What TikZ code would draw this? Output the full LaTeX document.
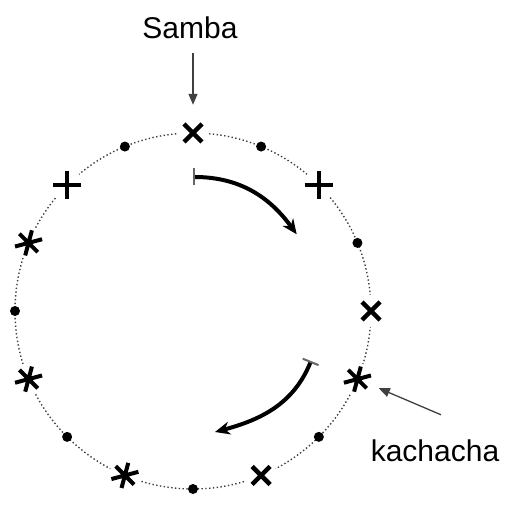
\documentclass[tikz,border=0pt]{standalone}
\usepackage{fontspec}
\setmainfont{Liberation Sans}
\usetikzlibrary{arrows.meta,calc}

\begin{document}
\begin{tikzpicture}[x=1pt, y=1pt,
    ring/.style={line width=1.4pt, black!75, dash pattern=on 1.4pt off 2.4pt},
    sign/.style={circle, fill=white, inner sep=0pt, minimum size=32pt},
    xsign/.style={sign, path picture={\draw[line width=4.5pt, shift={(path picture bounding box.center)}]
        (-9pt,-9pt) -- (9pt,9pt) (-9pt,9pt) -- (9pt,-9pt);}},
    plussign/.style={sign, path picture={\draw[line width=4.5pt, shift={(path picture bounding box.center)}]
        (-14pt,0pt) -- (14pt,0pt) (0pt,-14pt) -- (0pt,14pt);}},
    starsign/.style={sign, path picture={\draw[line width=4pt, shift={(path picture bounding box.center)}]
        (195:14pt) -- (15:14pt) (255:13pt) -- (75:13pt) (315:13pt) -- (135:13pt);}},
    dotsign/.style={circle, fill=black, inner sep=0pt, minimum size=10pt},
    word/.style={font=\fontsize{30}{36}\selectfont, inner sep=2pt},
    pointer/.style={line width=1.3pt, black!75, -{Triangle[length=11pt, width=9pt]}},
    turn/.style={line width=4pt, {Bar[width=17pt, line width=2pt, color=black!60]}-{Stealth[length=15pt, width=13pt]}},
]
\useasboundingbox (-193,-197) rectangle (311,311);

\draw[ring] (0,0) circle[radius=178];

\foreach \a/\s [count=\i] in {90/xsign, 67.5/dotsign, 45/plussign, 22.5/dotsign,
    0/xsign, -22.5/starsign, -45/dotsign, -67.5/xsign, -90/dotsign, -112.5/starsign,
    -135/dotsign, -157.5/starsign, 180/dotsign, 157.5/starsign, 135/plussign, 112.5/dotsign}
  \node[\s] (p\i) at (\a:178) {};

\node[word] (samba) at (-3,283) {Samba};
\node[word] (kach) at (242,-140) {kachacha};
\coordinate (ktail) at ($(kach.north)+(6,23)$);

\draw[pointer, shorten <=12pt, shorten >=12pt] (samba.south -| p1) -- (p1);
\draw[pointer, shorten >=7pt] (ktail) -- (p6);

% direction of travel
\coordinate (a1s) at (90:134);
\coordinate (a1e) at (36.5:129);
\coordinate (a2s) at (118,-50);
\coordinate (a2e) at (22,-121);
\draw[turn] (a1s) to[out=0, in=126] (a1e);
\draw[turn] (a2s) to[out=-112, in=15] (a2e);
\end{tikzpicture}
\end{document}
